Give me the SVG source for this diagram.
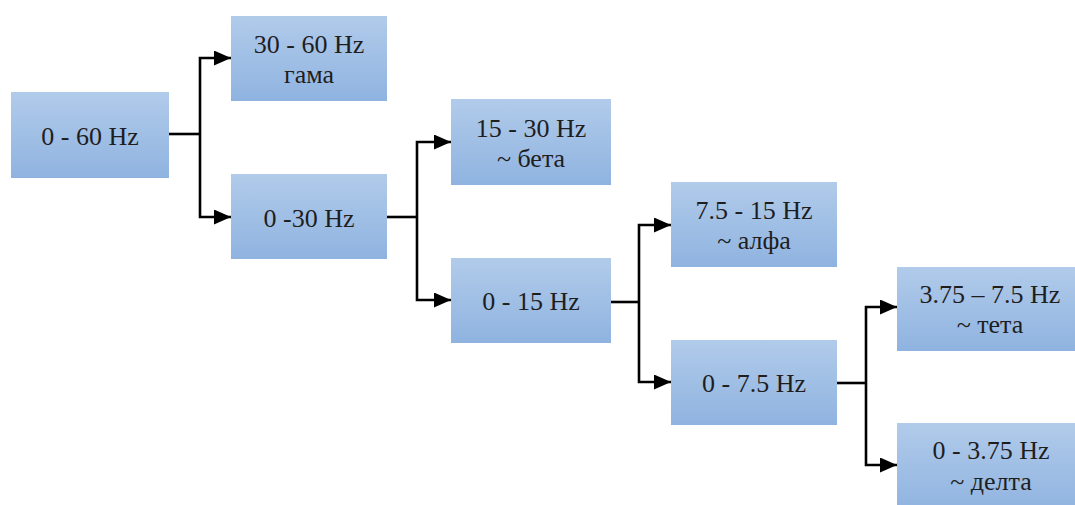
<svg xmlns="http://www.w3.org/2000/svg" width="1075" height="505" viewBox="0 0 1075 505">
<defs>
<linearGradient id="g" x1="0" y1="0" x2="0" y2="1">
<stop offset="0" stop-color="#b1cbea"/>
<stop offset="1" stop-color="#8fb3e0"/>
</linearGradient>
<marker id="ah" viewBox="0 0 17 15" refX="17" refY="7.5" markerWidth="17" markerHeight="15" orient="auto" markerUnits="userSpaceOnUse">
<path d="M0,0 L17,7.5 L0,15 z" fill="#000"/>
</marker>
<style>
.box{fill:url(#g);}
text{font-family:"Liberation Serif","Times New Roman","DejaVu Serif",serif;font-size:26px;fill:#1e1e1e;text-anchor:middle;}
.c{fill:none;stroke:#000;stroke-width:2.6;}
.a{fill:none;stroke:#000;stroke-width:2.6;marker-end:url(#ah);}
</style>
</defs>
<rect width="1075" height="505" fill="#fff"/>
<g id="n0"><rect class="box" x="11" y="92" width="158" height="86"/><text x="90" y="145">0 - 60 Hz</text></g>
<g id="n1"><rect class="box" x="231" y="16" width="156" height="85"/><text x="309" y="53">30 - 60 Hz</text><text x="309" y="83">гама</text></g>
<g id="n2"><rect class="box" x="231" y="174" width="156" height="85"/><text x="309" y="227">0 -30 Hz</text></g>
<g id="n3"><rect class="box" x="451" y="99" width="160" height="86"/><text x="531" y="137">15 - 30 Hz</text><text x="531" y="167">~ бета</text></g>
<g id="n4"><rect class="box" x="451" y="258" width="160" height="85"/><text x="531" y="310">0 - 15 Hz</text></g>
<g id="n5"><rect class="box" x="671" y="182" width="166" height="85"/><text x="754" y="219">7.5 - 15 Hz</text><text x="754" y="249">~ алфа</text></g>
<g id="n6"><rect class="box" x="671" y="340" width="166" height="85"/><text x="754" y="392">0 - 7.5 Hz</text></g>
<g id="n7"><rect class="box" x="897" y="267" width="188" height="84"/><text x="990" y="303">3.75 – 7.5 Hz</text><text x="990" y="333">~ тета</text></g>
<g id="n8"><rect class="box" x="897" y="423" width="188" height="90"/><text x="991" y="459">0 - 3.75 Hz</text><text x="991" y="490">~ делта</text></g>
<g id="connectors">
<path class="c" d="M169,134 H200"/>
<path class="a" d="M200,134 V58 H231"/>
<path class="a" d="M200,134 V217 H231"/>
<path class="c" d="M387,217 H417"/>
<path class="a" d="M417,217 V142 H451"/>
<path class="a" d="M417,217 V300 H451"/>
<path class="c" d="M611,302 H639"/>
<path class="a" d="M639,302 V225 H671"/>
<path class="a" d="M639,302 V382 H671"/>
<path class="c" d="M837,383 H866"/>
<path class="a" d="M866,383 V307 H897"/>
<path class="a" d="M866,383 V465 H897"/>
</g>
</svg>
